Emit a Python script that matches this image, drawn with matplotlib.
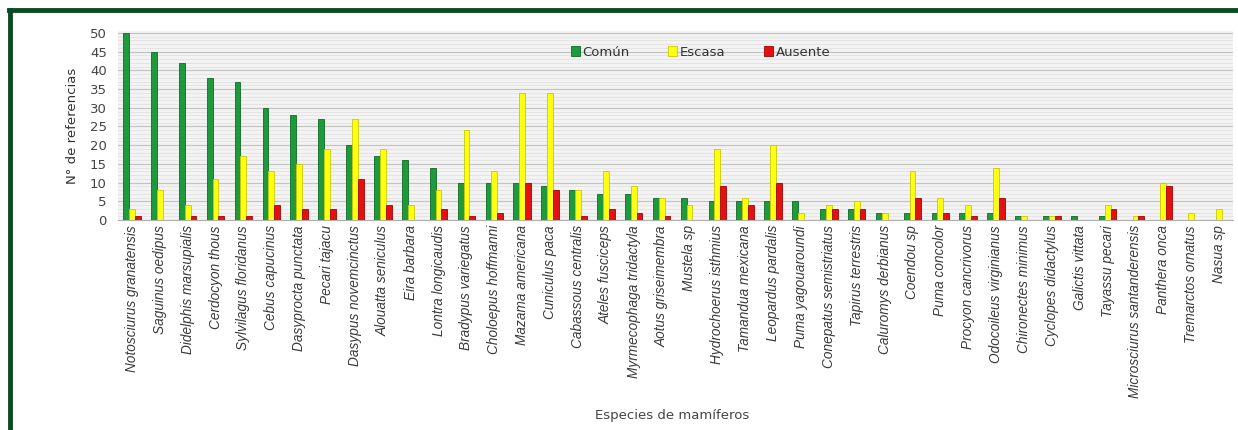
import matplotlib.pyplot as plt
import numpy as np
from matplotlib.lines import Line2D

especies = ['Notosciurus granatensis', 'Saguinus oedipus', 'Didelphis marsupialis',
            'Cerdocyon thous', 'Sylvilagus floridanus', 'Cebus capucinus',
            'Dasyprocta punctata', 'Pecari tajacu', 'Dasypus novemcinctus',
            'Alouatta seniculus', 'Eira barbara', 'Lontra longicaudis',
            'Bradypus variegatus', 'Choloepus hoffmanni', 'Mazama americana',
            'Cuniculus paca', 'Cabassous centralis', 'Ateles fusciceps',
            'Myrmecophaga tridactyla', 'Aotus griseimembra', 'Mustela sp',
            'Hydrochoerus isthmius', 'Tamandua mexicana', 'Leopardus pardalis',
            'Puma yagouaroundi', 'Conepatus semistriatus', 'Tapirus terrestris',
            'Caluromys derbianus', 'Coendou sp', 'Puma concolor',
            'Procyon cancrivorus', 'Odocoileus virginianus', 'Chironectes minimus',
            'Cyclopes didactylus', 'Galictis vittata', 'Tayassu pecari',
            'Microsciurus santanderensis', 'Panthera onca', 'Tremarctos ornatus',
            'Nasua sp']

comun = [50, 45, 42, 38, 37, 30, 28, 27, 20, 17, 16, 14, 10, 10, 10, 9, 8, 7, 7, 6,
         6, 5, 5, 5, 5, 3, 3, 2, 2, 2, 2, 2, 1, 1, 1, 1, 0, 0, 0, 0]
escasa = [3, 8, 4, 11, 17, 13, 15, 19, 27, 19, 4, 8, 24, 13, 34, 34, 8, 13, 9, 6,
          4, 19, 6, 20, 2, 4, 5, 2, 13, 6, 4, 14, 1, 1, 0, 4, 1, 10, 2, 3]
ausente = [1, 0, 1, 1, 1, 4, 3, 3, 11, 4, 0, 3, 1, 2, 10, 8, 1, 3, 2, 1,
           0, 9, 4, 10, 0, 3, 3, 0, 6, 2, 1, 6, 0, 1, 0, 3, 1, 9, 0, 0]

fig = plt.figure(figsize=(12.38, 4.30), dpi=100)
ax = fig.add_axes([0.0953, 0.488, 0.9007, 0.44])
ax.set_facecolor('#f3f3f3')

x = np.arange(len(especies))
w = 0.21
ax.bar(x - w, comun, w, color='#1e9a3c', edgecolor='#0e6a26', linewidth=0.6, label='Común', zorder=3)
ax.bar(x, escasa, w, color='#ffff14', edgecolor='#c9c900', linewidth=0.6, label='Escasa', zorder=3)
ax.bar(x + w, ausente, w, color='#e31212', edgecolor='#a50000', linewidth=0.6, label='Ausente', zorder=3)

ax.set_xlim(-0.5, len(especies) - 0.5)
ax.set_ylim(0, 50.5)
ax.set_yticks(range(0, 51, 5))
ax.set_yticks(range(0, 51, 1), minor=True)
ax.grid(axis='y', which='major', color='#c4c4c4', linewidth=0.9, zorder=0)
ax.grid(axis='y', which='minor', color='#e2e2e2', linewidth=0.6, zorder=0)
ax.tick_params(axis='both', which='both', length=0)
ax.tick_params(axis='y', labelsize=9.5, labelcolor='#444444', pad=8)
ax.set_xticks(x)
ax.set_xticklabels(especies, rotation=90, fontsize=9.8, style='italic',
                   color='#3a3a3a', family='Liberation Sans')
for s in ['top', 'right', 'left']:
    ax.spines[s].set_visible(False)
ax.spines['bottom'].set_color('#b0b0b0')

ax.set_ylabel('N° de referencias', fontsize=9.5, color='#333333', labelpad=8)
fig.text(0.543, 0.025, 'Especies de mamíferos', fontsize=9.5, color='#444444', ha='center')

leg = ax.legend(loc='center', bbox_to_anchor=(0.566, 0.879), bbox_transform=fig.transFigure,
                ncol=3, frameon=False, fontsize=9.5, handlelength=0.7, handleheight=0.7,
                handletextpad=0.2, columnspacing=2.9)
for t in leg.get_texts():
    t.set_color('#333333')

# marco verde oscuro
fig.add_artist(Line2D([0.0073, 1.0], [0.977, 0.977], color='#0b4a22', linewidth=3.5))
fig.add_artist(Line2D([0.0081, 0.0081], [0.0, 0.977], color='#0b4a22', linewidth=3.5))

fig.savefig('out.png', dpi=100)
